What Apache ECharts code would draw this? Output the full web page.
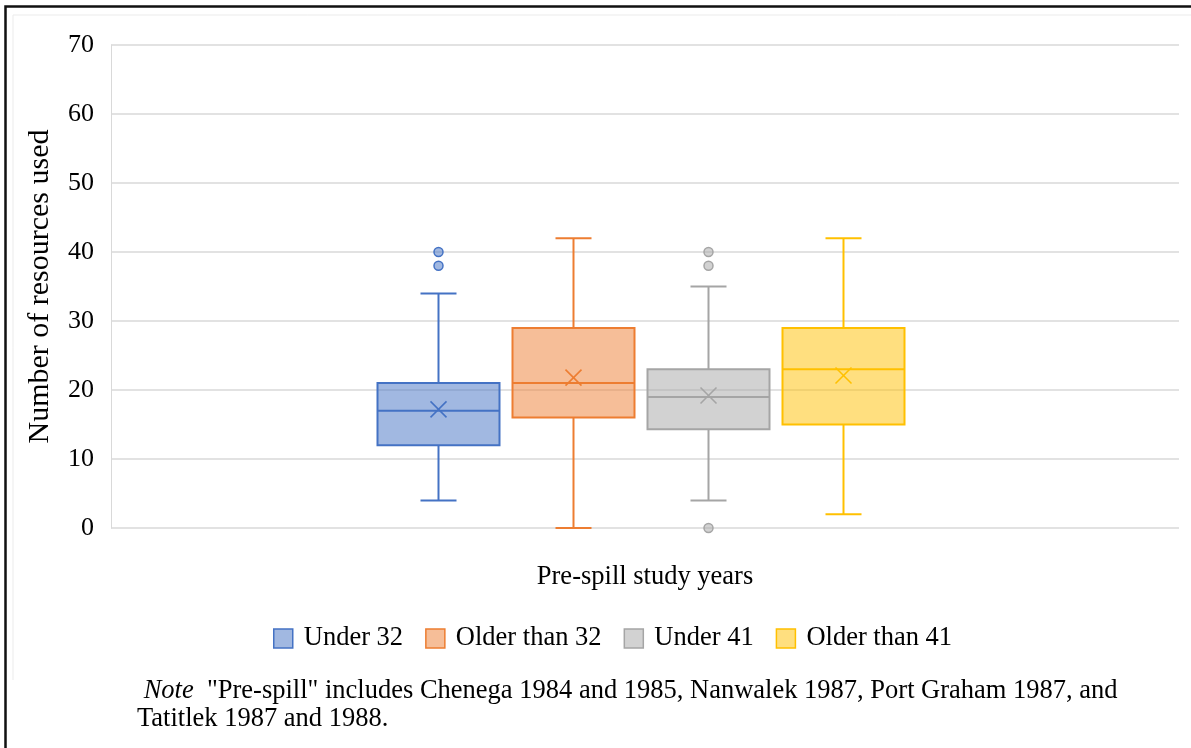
<!DOCTYPE html>
<html>
<head>
<meta charset="utf-8">
<script src="https://cdn.jsdelivr.net/npm/echarts@6/dist/echarts.min.js"></script>
<style>
html,body{margin:0;padding:0;background:#fff;}
#chart{width:1191px;height:748px;}
</style>
</head>
<body>
<div id="chart"></div>
<script>
// ---- data ----
const categories = ['Pre-spill study years'];
const seriesNames = ['Under 32', 'Older than 32', 'Under 41', 'Older than 41'];
const minValues = [4, 0, 4, 2];
const q1Values = [12, 16, 14.3, 15];
const medianValues = [17, 21, 19, 23];
const q3Values = [21, 29, 23, 29];
const maxValues = [34, 42, 35, 42];
const meanValues = [17.2, 21.8, 19.2, 22.1];
const outlierValues = [[38, 40], [], [0, 38, 40], []];
const yMin = 0, yMax = 70, yInterval = 10;
const noteLine1 = '"Pre-spill" includes Chenega 1984 and 1985, Nanwalek 1987, Port Graham 1987, and';
const noteLine2 = 'Tatitlek 1987 and 1988.';

// ---- style / layout ----
const lineColors = ['#4472C4', '#ED7D31', '#A5A5A5', '#FFC000'];
const fillColors = ['rgba(68,114,196,0.5)', 'rgba(237,125,49,0.5)', 'rgba(165,165,165,0.5)', 'rgba(255,192,0,0.5)'];
const BOX_W = 122, PITCH = 135, GROUP_SHIFT = -4, CAP_W = 36, MEAN_SIZE = 16, OUT_R = 4.5;
const FONT = '"Liberation Serif", "Times New Roman", serif';

function offsetFor(i) { return GROUP_SHIFT + (i - (seriesNames.length - 1) / 2) * PITCH; }

function boxRender(idx) {
  return function (params, api) {
    const cat = api.value(0);
    const cx = api.coord([cat, 0])[0] + offsetFor(idx);
    const y = v => api.coord([cat, v])[1];
    const yMn = y(api.value(1)), yQ1 = y(api.value(2)), yMd = y(api.value(3)),
          yQ3 = y(api.value(4)), yMx = y(api.value(5)), yMe = y(api.value(6));
    const hw = BOX_W / 2, cw = CAP_W / 2, m = MEAN_SIZE / 2;
    const ls = { stroke: lineColors[idx], lineWidth: 2 };
    const line = (x1, y1, x2, y2, w) => ({ type: 'line', shape: { x1, y1, x2, y2 }, style: Object.assign({}, ls, w ? { lineWidth: w } : {}) });
    return {
      type: 'group',
      children: [
        line(cx, yQ3, cx, yMx),
        line(cx, yQ1, cx, yMn),
        line(cx - cw, yMx, cx + cw, yMx),
        line(cx - cw, yMn, cx + cw, yMn),
        { type: 'rect', shape: { x: cx - hw, y: yQ3, width: BOX_W, height: yQ1 - yQ3 },
          style: { fill: fillColors[idx], stroke: lineColors[idx], lineWidth: 2 } },
        line(cx - hw, yMd, cx + hw, yMd),
        line(cx - m, yMe - m, cx + m, yMe + m, 1.6),
        line(cx - m, yMe + m, cx + m, yMe - m, 1.6)
      ]
    };
  };
}

function outlierRender(idx) {
  return function (params, api) {
    const cat = api.value(0);
    const p = api.coord([cat, api.value(1)]);
    return {
      type: 'circle',
      shape: { cx: p[0] + offsetFor(idx), cy: p[1], r: OUT_R },
      style: { fill: fillColors[idx], stroke: lineColors[idx], lineWidth: 1.5 }
    };
  };
}

const series = [];
seriesNames.forEach((name, i) => {
  series.push({
    type: 'custom', name,
    renderItem: boxRender(i),
    encode: { x: 0, y: [1, 2, 3, 4, 5, 6] },
    data: [[0, minValues[i], q1Values[i], medianValues[i], q3Values[i], maxValues[i], meanValues[i]]],
    itemStyle: { color: fillColors[i], borderColor: lineColors[i] },
    z: 3
  });
  series.push({
    type: 'custom', name,
    renderItem: outlierRender(i),
    encode: { x: 0, y: 1 },
    data: outlierValues[i].map(v => [0, v]),
    itemStyle: { color: fillColors[i], borderColor: lineColors[i] },
    clip: false,
    z: 4
  });
});

const chart = echarts.init(document.getElementById('chart'), null, { renderer: 'canvas' });
chart.setOption({
  backgroundColor: '#fff',
  animation: false,
  textStyle: { fontFamily: FONT },
  grid: { left: 111, right: 12, top: 45, bottom: 220, containLabel: false },
  xAxis: {
    type: 'category',
    data: categories,
    axisLine: { show: false },
    axisTick: { show: false },
    axisLabel: { margin: 36, fontSize: 26.5, color: '#000', fontFamily: FONT }
  },
  yAxis: {
    type: 'value',
    min: yMin, max: yMax, interval: yInterval,
    name: 'Number of resources used',
    nameLocation: 'middle',
    nameGap: 56,
    nameTextStyle: { fontSize: 30, color: '#000', fontFamily: FONT },
    axisLine: { show: true, lineStyle: { color: '#d9d9d9', width: 1 } },
    axisTick: { show: false },
    axisLabel: { margin: 17, fontSize: 26, color: '#000', fontFamily: FONT },
    splitLine: { lineStyle: { color: '#d9d9d9', width: 1.5 } }
  },
  legend: {
    left: 268, top: 620,
    itemWidth: 19, itemHeight: 19, itemGap: 22,
    textStyle: { fontSize: 26.5, color: '#000', fontFamily: FONT, padding: [0, 0, 0, 6] },
    data: seriesNames.map((n, i) => ({
      name: n, icon: 'rect',
      itemStyle: { color: fillColors[i], borderColor: lineColors[i], borderWidth: 1.5 }
    }))
  },
  graphic: [
    { type: 'polyline', silent: true, shape: { points: [[13, 680], [13, 15], [1191, 15]] },
      style: { stroke: '#ebebeb', lineWidth: 1, fill: null } },
    { type: 'rect', silent: true, shape: { x: 5.5, y: 6.5, width: 1300, height: 900 },
      style: { stroke: '#111', lineWidth: 2.5, fill: null } },
    { type: 'text', silent: true, x: 137, y: 677,
      style: {
        text: ' {i|Note}  ' + noteLine1 + '\n' + noteLine2,
        fontSize: 26.5, fontFamily: FONT, fill: '#000', lineHeight: 28,
        verticalAlign: 'top',
        rich: { i: { fontStyle: 'italic', fontSize: 26.5, fontFamily: FONT, fill: '#000', lineHeight: 28 } }
      } }
  ],
  series
});
</script>
</body>
</html>
